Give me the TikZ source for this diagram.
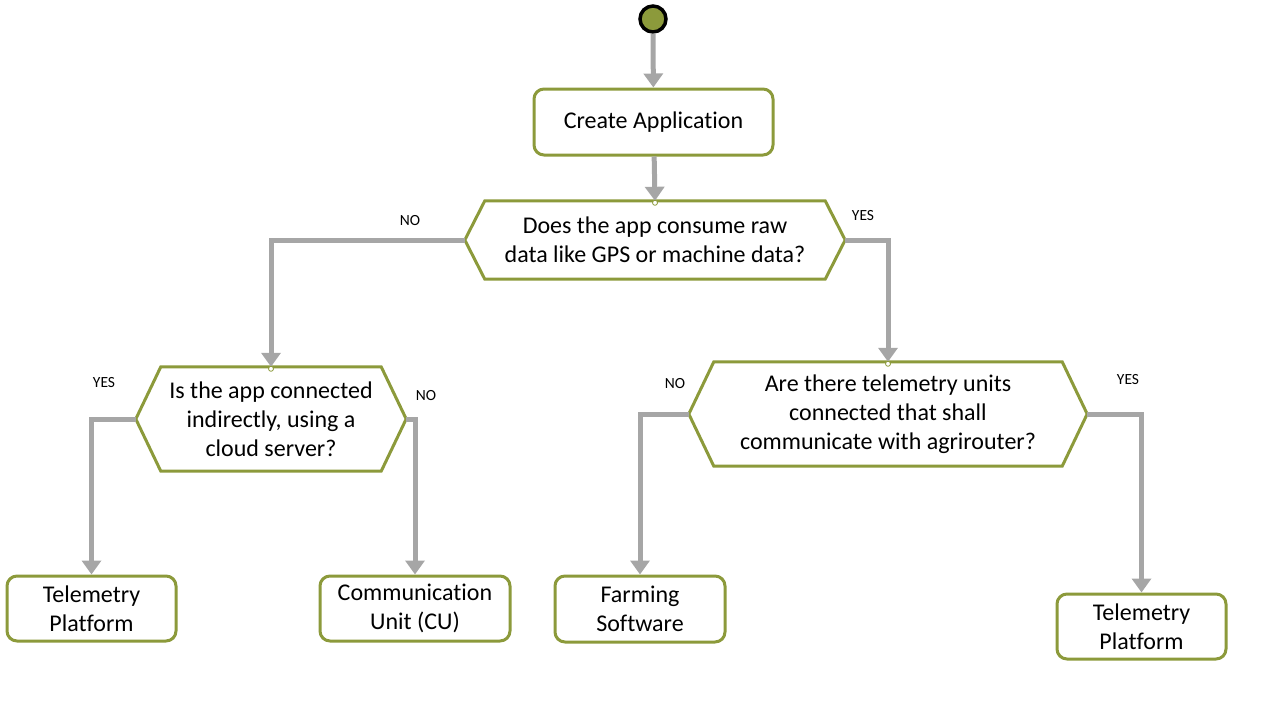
\documentclass[tikz,border=0pt]{standalone}
\usepackage{fontspec}
\setmainfont{Carlito}[Ligatures=NoCommon]
\usetikzlibrary{arrows.meta}
\definecolor{olv}{HTML}{8C9A3B}
\definecolor{gry}{HTML}{A6A6A6}
\tikzset{
  box/.style={draw=olv, line width=3pt, rounded corners=10pt, fill=white, align=center, font=\fontsize{24}{29}\selectfont, inner sep=0pt},
  hexbase/.style={draw=none, align=center, font=\fontsize{24}{29}\selectfont, inner sep=0pt},
  hexline/.style={draw=olv, line width=3pt, fill=white, line join=miter},
  conn/.style={draw=gry, line width=5pt, -{Triangle[width=19pt,length=14pt]}},
  lbl/.style={font=\fontsize{15.5}{18}\selectfont, inner sep=0pt},
  glue/.style={draw=olv, line width=0.8pt, fill=white}
}
\newcommand{\hexagon}[2]{%
  \path[hexline] (#1.west) -- ([xshift=#2]#1.north west) -- ([xshift=-#2]#1.north east) -- (#1.east)
    -- ([xshift=-#2]#1.south east) -- ([xshift=#2]#1.south west) -- cycle;}
\begin{document}
\begin{tikzpicture}[x=1pt,y=-1pt]
\useasboundingbox (0,0) rectangle (1280,720);
% start
\node[circle, draw=black, line width=3.5pt, fill=olv, minimum size=26pt, inner sep=0pt] (start) at (653,19) {};
% boxes
\node[box, minimum width=239pt, minimum height=66pt] (ca) at (653.5,122) {\raisebox{-1.5pt}{Create Application}};
\node[box, minimum width=169pt, minimum height=65pt] (tp1) at (91.5,608.5) {Telemetry\\Platform};
\node[box, minimum width=190pt, minimum height=65pt] (cu) at (415,608.5) {Communication\\Unit (CU)};
\node[box, minimum width=170pt, minimum height=66pt] (fs) at (640,609) {Farming\\Software};
\node[box, minimum width=169pt, minimum height=65pt] (tp2) at (1141.5,626.5) {Telemetry\\Platform};
% decision hexagons
\node[hexbase, minimum width=380pt, minimum height=78pt] (h1) at (655,240) {};
\node[hexbase, minimum width=270pt, minimum height=104pt] (h2) at (271,419) {};
\node[hexbase, minimum width=398pt, minimum height=104pt] (h3) at (888,414) {};
\hexagon{h1}{20pt}
\hexagon{h2}{25pt}
\hexagon{h3}{25pt}
\node[hexbase] (h1t) at (h1.center) {Does the app consume raw\\data like GPS or machine data?};
\node[hexbase] (h2t) at (h2.center) {Is the app connected\\indirectly, using a\\cloud server?};
\node[hexbase] (h3t) at (h3.center) {Are there telemetry units\\connected that shall\\communicate with agrirouter?};
% connectors
\draw[conn] (start) -- (ca);
\draw[conn] (ca) -- (h1.north);
\draw[conn] (h1.west) -| (h2.north);
\draw[conn] (h1.east) -| (h3.north);
\draw[conn] (h2.west) -| (tp1.north);
\draw[conn] (h2.east) -| (cu.north);
\draw[conn] (h3.west) -| (fs.north);
\draw[conn] (h3.east) -| (tp2.north);
% glue points
\draw[glue] ([yshift=-2pt]h1.north) circle (2.5pt);
\draw[glue] ([yshift=-2pt]h2.north) circle (2.5pt);
\draw[glue] ([yshift=-2pt]h3.north) circle (2.5pt);
% labels
\node[lbl] (l1) at (410,221) {NO};
\node[lbl] (l2) at (863,216) {YES};
\node[lbl] (l3) at (104,383) {YES};
\node[lbl] (l4) at (426,396) {NO};
\node[lbl] (l5) at (675,384) {NO};
\node[lbl] (l6) at (1128,380) {YES};
\end{tikzpicture}
\end{document}
